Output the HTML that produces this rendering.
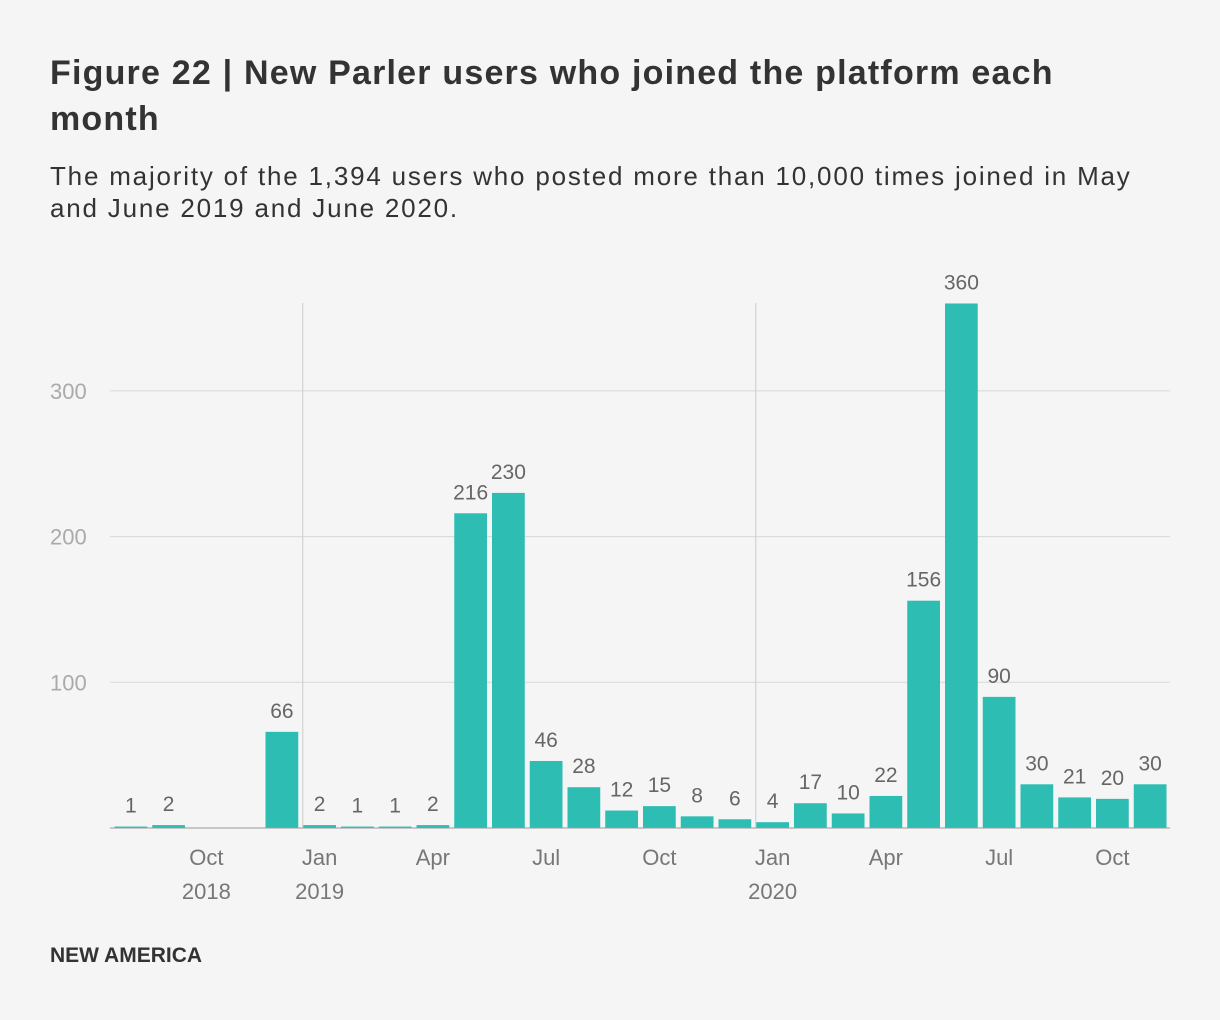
<!DOCTYPE html>
<html><head><meta charset="utf-8"><style>
body{margin:0;background:#f5f5f5;font-family:"Liberation Sans",sans-serif;}
#wrap{position:relative;width:1220px;height:1020px;background:#f5f5f5;}
h1{position:absolute;left:50px;top:50px;margin:0;font-size:34px;line-height:46px;font-weight:bold;color:#333;width:1080px;letter-spacing:1.2px;}
.sub{position:absolute;left:50px;top:160px;margin:0;font-size:26px;line-height:32px;color:#333;width:1100px;letter-spacing:1.8px;}
.foot{position:absolute;left:50px;top:944px;font-size:21px;font-weight:bold;color:#333;}
svg{position:absolute;left:0;top:0;}
</style></head><body>
<div id="wrap">
<h1>Figure 22 | New Parler users who joined the platform each month</h1>
<p class="sub">The majority of the 1,394 users who posted more than 10,000 times joined in May and June 2019 and June 2020.</p>
<svg id="chart" width="1220" height="1020"></svg>
<div class="foot">NEW AMERICA</div>
</div>
<script>
const months=["Aug 2018","Sep 2018","Oct 2018","Nov 2018","Dec 2018","Jan 2019","Feb 2019","Mar 2019","Apr 2019","May 2019","Jun 2019","Jul 2019","Aug 2019","Sep 2019","Oct 2019","Nov 2019","Dec 2019","Jan 2020","Feb 2020","Mar 2020","Apr 2020","May 2020","Jun 2020","Jul 2020","Aug 2020","Sep 2020","Oct 2020","Nov 2020"];
const values=[1,2,0,0,66,2,1,1,2,216,230,46,28,12,15,8,6,4,17,10,22,156,360,90,30,21,20,30];
const yTicks=[100,200,300];
const xTickIdx=[2,5,8,11,14,17,20,23,26];
const xTickLabels=["Oct","Jan","Apr","Jul","Oct","Jan","Apr","Jul","Oct"];
const xTickYears=["2018","2019","","","","2020","","",""];
const yearLineIdx=[5,17];

const svg=document.getElementById('chart');
const NS='http://www.w3.org/2000/svg';
const x0=112,x1=1169,y0=828,pxPer=1.457;
const bw=(x1-x0)/months.length;
const xs=i=>x0+i*bw;
const ys=v=>y0-v*pxPer;
function mk(t,a){const e=document.createElementNS(NS,t);for(const k in a)e.setAttribute(k,a[k]);svg.appendChild(e);return e;}
yTicks.forEach(v=>{
  const l=mk('line',{x1:110,x2:1170,y1:ys(v),y2:ys(v),stroke:'#d8d8d8','stroke-width':1});
  
  
  const t=mk('text',{x:50,y:ys(v)+8,'font-size':22,fill:'#aaa'});t.textContent=v;
  
  
});
yearLineIdx.forEach(i=>{
  const l=mk('line',{x1:xs(i)+2,x2:xs(i)+2,y1:303,y2:y0,stroke:'#ccc','stroke-width':1});
  
  
});
values.forEach((v,i)=>{
  const cx=xs(i)+bw/2;
  if(v>0){
    const r=mk('rect',{x:xs(i)+2.5,y:ys(v),width:bw-5,height:v*pxPer,fill:'#2ebdb3'});
    
    
    const t=mk('text',{x:cx,y:ys(v)-14,'font-size':21,fill:'#666','text-anchor':'middle'});t.textContent=v;
    
    
  }
});
const ax=mk('line',{x1:110,x2:1170,y1:y0,y2:y0,stroke:'#999','stroke-width':1});


xTickIdx.forEach((i,k)=>{
  const cx=xs(i)+bw/2;
  const t=mk('text',{x:cx,y:865,'font-size':22,fill:'#777','text-anchor':'middle'});t.textContent=xTickLabels[k];
  
  
  if(xTickYears[k]){
    const y=mk('text',{x:cx,y:899,'font-size':22,fill:'#777','text-anchor':'middle'});y.textContent=xTickYears[k];
    
    
  }
});
</script>
</body></html>
